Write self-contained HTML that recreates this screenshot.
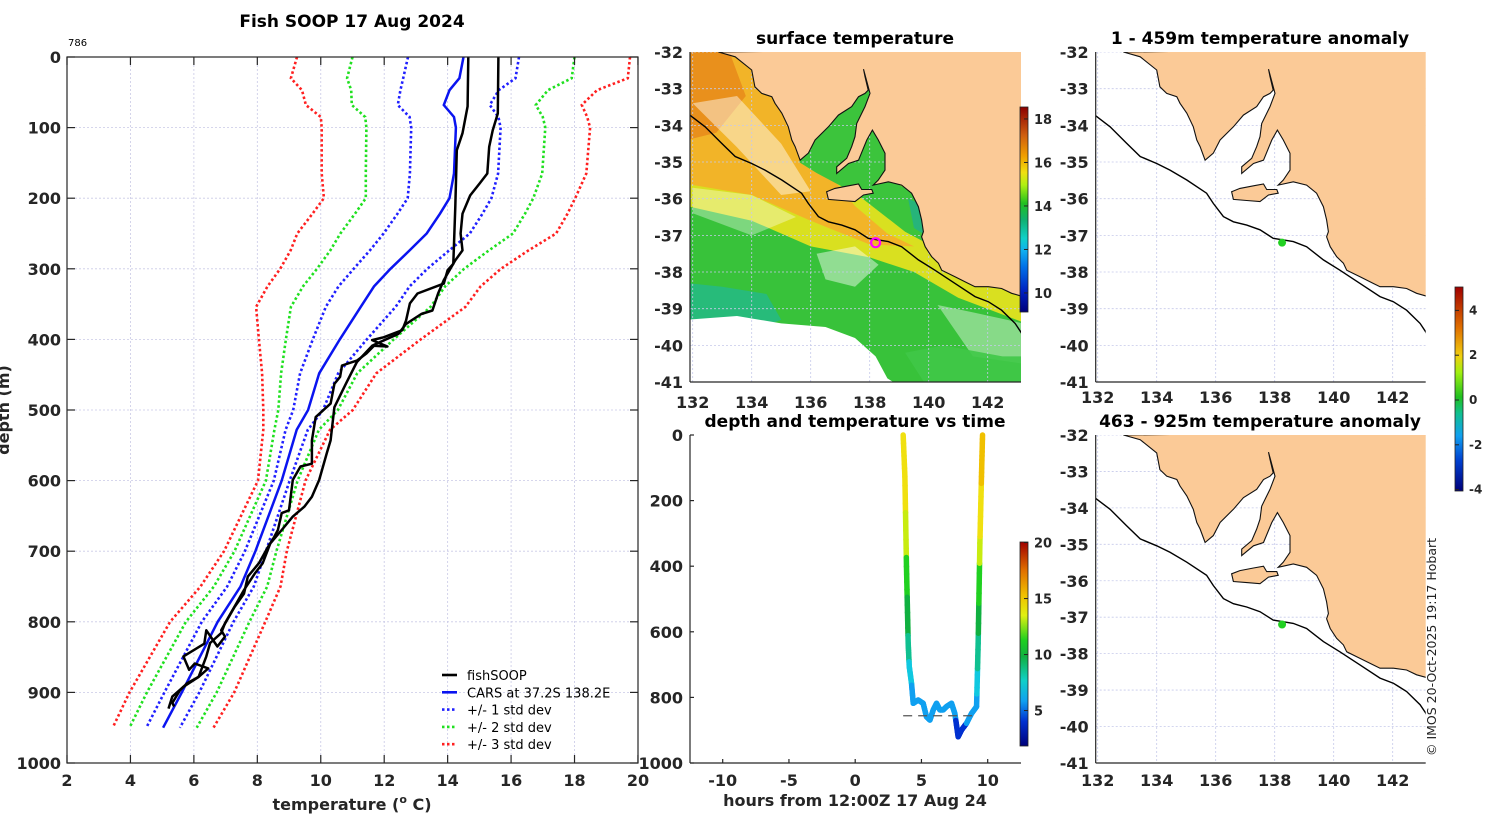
<!DOCTYPE html>
<html><head><meta charset="utf-8">
<style>
html,body{margin:0;padding:0;background:#fff;}
svg{display:block;font-family:"DejaVu Sans","Liberation Sans",sans-serif;}
.tk{font-weight:bold;font-size:16px;fill:#262626;}
.ttl{font-weight:bold;font-size:17px;fill:#000;}
</style></head>
<body>
<svg id="fig" width="1500" height="820" viewBox="0 0 1500 820" xmlns="http://www.w3.org/2000/svg">
<defs>
<linearGradient id="sstcb" x1="0" y1="1" x2="0" y2="0">
<stop offset="0" stop-color="#00007a"/><stop offset="0.1" stop-color="#0020c0"/><stop offset="0.22" stop-color="#0070e8"/>
<stop offset="0.3" stop-color="#10b0f0"/><stop offset="0.36" stop-color="#10d0c8"/><stop offset="0.45" stop-color="#10b070"/>
<stop offset="0.53" stop-color="#20c020"/><stop offset="0.62" stop-color="#b0f010"/><stop offset="0.68" stop-color="#f0e010"/>
<stop offset="0.76" stop-color="#f0a000"/><stop offset="0.86" stop-color="#d06010"/><stop offset="1" stop-color="#8b0000"/>
</linearGradient>
<linearGradient id="tcb" x1="0" y1="1" x2="0" y2="0">
<stop offset="0" stop-color="#00007a"/><stop offset="0.12" stop-color="#0030d0"/><stop offset="0.22" stop-color="#10a0f0"/>
<stop offset="0.32" stop-color="#10d0c8"/><stop offset="0.44" stop-color="#10b040"/><stop offset="0.52" stop-color="#20d020"/>
<stop offset="0.64" stop-color="#e0f010"/><stop offset="0.74" stop-color="#f0c000"/><stop offset="0.86" stop-color="#e07000"/><stop offset="1" stop-color="#a00000"/>
</linearGradient>
<linearGradient id="acb" x1="0" y1="1" x2="0" y2="0">
<stop offset="0" stop-color="#00007a"/><stop offset="0.15" stop-color="#0040d0"/><stop offset="0.27" stop-color="#10a0f0"/>
<stop offset="0.38" stop-color="#10c090"/><stop offset="0.46" stop-color="#20c020"/><stop offset="0.58" stop-color="#a0f010"/>
<stop offset="0.66" stop-color="#f0d010"/><stop offset="0.8" stop-color="#e07000"/><stop offset="1" stop-color="#a00000"/>
</linearGradient>
<clipPath id="clipSst"><rect x="690" y="52" width="331" height="330"/></clipPath>
<clipPath id="clipA1"><rect x="1095.7" y="52" width="330" height="330"/></clipPath>
<clipPath id="clipA2"><rect x="1095.7" y="435" width="330" height="328"/></clipPath>
<clipPath id="clipMain"><rect x="67" y="57" width="571" height="706"/></clipPath>
</defs>
</svg>
<script>
// ---------- main profile chart data ----------
const cDepth = [0,30,47,68,85,100,165,200,222,250,274,300,325,354,400,448,500,528,600,700,750,800,900,950];
const cMean  = [14.5,14.37,14.06,13.88,14.2,14.26,14.2,14.06,13.76,13.34,12.8,12.2,11.68,11.26,10.6,9.95,9.6,9.24,8.77,7.94,7.47,6.75,5.62,5.03];
const cStd   = [1.75,1.77,1.55,1.45,1.4,1.41,1.39,1.32,1.34,1.36,1.25,1.16,1.12,1.1,0.85,0.6,0.47,0.35,0.25,0.33,0.42,0.5,0.55,0.53];
const castADepth = [0,80,104,127,165,179,196,222,250,274,288,302,316,335,359,364,378,392,404,409,432,463,496,543,561,599,623,637,651,670,689,717,731,755,774,802,816,830,849,878,887,897,915,920];
const castATemp  = [15.6,15.58,15.42,15.31,15.25,15.01,14.71,14.47,14.41,14.47,14.24,14.06,13.88,13.7,13.52,13.17,12.69,12.45,11.86,11.62,11.14,10.79,10.43,10.31,10.19,9.95,9.72,9.48,9.12,8.77,8.41,8.17,7.93,7.58,7.34,6.98,6.86,6.51,6.39,6.15,5.79,5.56,5.32,5.38];
const castBDepth = [0,70,108,132,212,293,302,321,335,349,373,387,397,401,410,409,420,430,437,453,463,491,510,543,576,580,599,642,646,670,680,693,717,736,760,779,812,821,835,812,831,849,868,859,866,878,892,906,923];
const castBTemp  = [14.65,14.63,14.47,14.29,14.24,14.18,14.0,13.88,13.05,12.81,12.69,12.57,11.98,11.62,12.1,11.68,11.44,11.14,10.67,10.61,10.43,10.31,9.84,9.72,9.72,9.36,9.12,9.0,8.77,8.65,8.53,8.35,8.05,7.7,7.58,7.28,6.86,6.98,6.74,6.39,6.33,5.67,5.85,6.03,6.45,6.15,5.67,5.32,5.2];
const xTicks = [2,4,6,8,10,12,14,16,18,20];
const yTicks = [0,100,200,300,400,500,600,700,800,900,1000];
const legendLabels = ["fishSOOP","CARS at 37.2S 138.2E","+/- 1 std dev","+/- 2 std dev","+/- 3 std dev"];
// ---------- time chart data ----------
const tHours = [3.62,3.75,3.87,4.0,4.08,4.25,4.38,4.75,5.13,5.38,5.64,5.89,6.14,6.39,6.64,6.89,7.27,7.52,7.77,8.03,8.4,8.78,9.16,9.28,9.41,9.53,9.61];
const tDepths = [0,127,401,635,706,757,818,808,818,859,869,838,818,838,838,828,818,849,920,899,879,849,828,635,330,127,0];
const tTemps = [15.4,15.2,13.3,10.2,8.6,7.6,6.8,6.8,6.7,6.5,6.4,6.6,6.7,6.5,6.6,6.6,6.7,6.3,5.4,5.6,6.0,6.3,6.8,10.2,14.4,15.9,16.4];
const tBottom = 856;
const hourTicks = [-10,-5,0,5,10];
const tDepthTicks = [0,200,400,600,800,1000];
// ---------- maps ----------
const lonTicks = [132,134,136,138,140,142];
const latTicks = [-32,-33,-34,-35,-36,-37,-38,-39,-40,-41];
const landLon = [132.87,133.44,134.0,134.11,134.34,134.68,134.79,135.02,135.24,135.36,135.47,135.64,135.92,136.15,136.6,136.94,137.39,137.62,137.84,137.95,137.84,137.79,138.01,137.84,137.56,137.5,137.39,137.22,136.88,136.88,137.28,137.62,137.9,138.09,138.29,138.52,138.52,138.29,138.12,138.63,139.08,139.42,139.65,139.76,139.82,139.76,139.88,140.1,140.33,140.44,140.89,141.34,141.57,142.02,142.47,142.81,143.12,143.3,143.3];
const landLat = [-32,-32.13,-32.49,-32.95,-33.13,-33.22,-33.4,-33.67,-34.04,-34.4,-34.58,-34.95,-34.76,-34.4,-34.04,-33.72,-33.49,-33.22,-33.13,-33.04,-32.67,-32.47,-33.13,-33.49,-33.95,-34.31,-34.58,-34.9,-35.13,-35.31,-35.04,-34.95,-34.4,-34.13,-34.4,-34.76,-35.22,-35.49,-35.63,-35.54,-35.63,-35.85,-36.22,-36.58,-36.9,-37.04,-37.31,-37.58,-37.76,-37.95,-38.13,-38.31,-38.4,-38.4,-38.45,-38.58,-38.65,-38.65,-31.9];
const kiLon = [136.54,136.82,137.28,137.62,137.73,138.07,138.12,137.79,137.5,137.05,136.6];
const kiLat = [-35.81,-35.72,-35.65,-35.6,-35.75,-35.75,-35.85,-35.9,-36.08,-36.05,-36.02];
const shelfLon = [131.9,132.42,132.98,133.44,134.0,134.45,135.02,135.69,135.92,136.26,136.6,137.05,137.5,137.95,138.63,139.08,139.65,140.21,140.89,141.57,142.02,142.47,142.93,143.12,143.2];
const shelfLat = [-33.72,-34.04,-34.49,-34.85,-35.04,-35.22,-35.49,-35.85,-36.13,-36.49,-36.63,-36.72,-36.85,-37.08,-37.17,-37.31,-37.67,-37.95,-38.31,-38.67,-38.81,-39.04,-39.4,-39.63,-39.75];
const stationLon = 138.2, stationLat = -37.2;
const sstTicks = [18,16,14,12,10];
const tempCbTicks = [20,15,10,5];
const anomTicks = [4,2,0,-2,-4];

const NS = "http://www.w3.org/2000/svg";
const svg = document.getElementById('fig');
function mk(tag, attrs, parent){ const e=document.createElementNS(NS,tag); for(const k in attrs) e.setAttribute(k,attrs[k]); (parent||svg).appendChild(e); return e; }
function txt(x,y,s,cls,anchor,parent){ const e=mk('text',{x:x,y:y,'text-anchor':anchor||'middle'},parent); if(cls) e.setAttribute('class',cls); e.textContent=s; return e; }

// ---- scales ----
const tx = T => 67+(T-2)*31.72;
const dy = d => 57+d*0.706;
const hx = h => 855.2+h*13.25;
const hy = d => 435+d*0.328;
function mapScale(x0,y0,ppy){ return {x: lon=>x0+(lon-132)*29.5, y: lat=>y0+(-32-lat)*ppy}; }
const sstS = mapScale(692.7,52,36.67);
const a1S = mapScale(1097.7,52,36.67);
const a2S = mapScale(1097.7,435,36.44);

// ================= MAIN CHART =================
const main = mk('g',{});


const grid = mk('g',{stroke:'#c9c9e6','stroke-width':0.8,'stroke-dasharray':'2,2'},main);


xTicks.forEach(t=>{ mk('line',{x1:tx(t),x2:tx(t),y1:57,y2:763},grid); });
yTicks.forEach(t=>{ mk('line',{x1:67,x2:638,y1:dy(t),y2:dy(t)},grid); });

const pc = mk('g',{'clip-path':'url(#clipMain)',fill:'none'},main);
function profPath(temps, depths){ return temps.map((t,i)=>(i?'L':'M')+tx(t).toFixed(1)+','+dy(depths[i]).toFixed(1)).join(''); }
const stdCols = ['#2020ff','#20e020','#ff2020'];
[3,2,1].forEach(k=>{
  [-1,1].forEach(sg=>{
    const p = mk('path',{d:profPath(cMean.map((m,i)=>m+sg*k*cStd[i]),cDepth),stroke:stdCols[k-1],'stroke-width':2.6,'stroke-dasharray':'2.5,2.5'},pc);
    
    
  });
});
const meanP = mk('path',{d:profPath(cMean,cDepth),stroke:'#0a14f0','stroke-width':2.5},pc);


const castA = mk('path',{d:profPath(castATemp,castADepth),stroke:'#000','stroke-width':2.5,'stroke-linejoin':'round'},pc);


const castB = mk('path',{d:profPath(castBTemp,castBDepth),stroke:'#000','stroke-width':2.5,'stroke-linejoin':'round'},pc);



const ax = mk('g',{stroke:'#262626','stroke-width':1.2},main);


mk('rect',{x:67,y:57,width:571,height:706,fill:'none'},ax);
xTicks.forEach(t=>{ mk('line',{x1:tx(t),x2:tx(t),y1:57,y2:65},ax); mk('line',{x1:tx(t),x2:tx(t),y1:763,y2:755},ax); });
yTicks.forEach(t=>{ mk('line',{x1:67,x2:75,y1:dy(t),y2:dy(t)},ax); mk('line',{x1:638,x2:630,y1:dy(t),y2:dy(t)},ax); });
xTicks.forEach(t=>{ const e=txt(tx(t),786,String(t),'tk');   });
yTicks.forEach(t=>{ const e=txt(61,dy(t)+6,String(t),'tk','end');   });
const xt = mk('text',{x:352,y:810,'text-anchor':'middle',class:'tk'});
xt.innerHTML='temperature (<tspan dy="-7" font-size="11">o</tspan><tspan dy="7"> C)</tspan>';


const yt = txt(0,0,'depth (m)','tk');
yt.setAttribute('transform','translate(9,410) rotate(-90)');


const mt = txt(352,27,'Fish SOOP 17 Aug 2024','ttl');


const n786 = mk('text',{x:68,y:46,'font-size':'10',fill:'#000'});
n786.textContent='786';



// legend
const lg = mk('g',{},main);


const lgCols = ['#000','#0a14f0','#2020ff','#20e020','#ff2020'];
legendLabels.forEach((s,i)=>{
  const y=675+i*17.3;
  const ln = mk('line',{x1:442,x2:457,y1:y,y2:y,stroke:lgCols[i],'stroke-width':2.6},lg);
  if(i>1) ln.setAttribute('stroke-dasharray','2.5,2.5');
  const t = mk('text',{x:467,y:y+5,'font-size':'13',fill:'#000'},lg);
  t.textContent=s;
  
  
});

// ================= MAPS =================
function polyD(S, lons, lats, close){ return lons.map((l,i)=>(i?'L':'M')+S.x(l).toFixed(1)+','+S.y(lats[i]).toFixed(1)).join('')+(close?'Z':''); }
function mapGrid(S, g, x0, x1, y0, y1){
  const gg = mk('g',{stroke:'#c5c9ea','stroke-width':0.8,'stroke-dasharray':'2,2'},g);
  lonTicks.forEach(l=>mk('line',{x1:S.x(l),x2:S.x(l),y1:y0,y2:y1},gg));
  latTicks.forEach(l=>mk('line',{x1:x0,x2:x1,y1:S.y(l),y2:S.y(l)},gg));
}
function mapAxes(S, g, x0, x1, y0, y1, labY){
  const a = mk('g',{stroke:'#262626','stroke-width':1.2},g);
  mk('line',{x1:x0,x2:x0,y1:y0,y2:y1},a);
  mk('line',{x1:x0,x2:x1,y1:y1,y2:y1},a);
  latTicks.forEach(l=>{ const e=txt(x0-7,S.y(l)+6,String(l),'tk','end',g);   });
  lonTicks.forEach(l=>{ const e=txt(S.x(l),labY,String(l),'tk','middle',g);   });
}
function landAndShelf(S, g){
  const land = mk('path',{d:polyD(S,landLon,landLat,true),fill:'#fbca97',stroke:'#111','stroke-width':1.1},g);
  
  
  const ki = mk('path',{d:polyD(S,kiLon,kiLat,true),fill:'#fbca97',stroke:'#111','stroke-width':1.1},g);
  
  
  const sh = mk('path',{d:polyD(S,shelfLon,shelfLat,false),fill:'none',stroke:'#000','stroke-width':1.4},g);
  
  
}

// --- SST map ---
const sst = mk('g',{});


const sstc = mk('g',{'clip-path':'url(#clipSst)'},sst);
mk('rect',{x:690,y:52,width:331,height:330,fill:'#38c23a'},sstc);
const polyLL = (lons,lats,fill,op)=>mk('path',{d:polyD(sstS,lons,lats,true),fill:fill,'fill-opacity':op||1},sstc);
polyLL([131.8,134,136,138,139.5,141,143.3,143.3,131.8],[-36.2,-36.6,-37.3,-37.6,-38.0,-38.7,-39.4,-31.9,-31.9],'#d9e020');
polyLL([131.8,133.5,135,136.5,137.5,138.6,139.5,138,136,134,131.8],[-31.9,-31.9,-33.5,-35.2,-36.2,-36.95,-37.3,-37.25,-36.6,-35.9,-35.6],'#f2b428');
polyLL([131.8,133.2,133.8,132.8,131.8],[-31.9,-31.9,-33.2,-34.2,-34.4],'#e88a1a',0.85);
polyLL([135.6,137.8,138.6,138.7,139.9,139.9,139.2,137.6,136.2],[-35.0,-32.4,-34.0,-35.5,-36.0,-37.2,-36.9,-35.9,-35.3],'#3cc43c');
polyLL([139.3,139.9,139.9,139.5],[-36.0,-36.2,-37.0,-36.8],'#20b08a',0.8);
polyLL([131.8,133,134.5,135,134,132.5,131.8],[-38.3,-38.4,-38.6,-39.3,-39.6,-39.8,-39.9],'#22b890',0.75);
polyLL([131.8,133.5,135,136.5,137.5,138.2,138.6,139.2,131.8],[-39.3,-39.2,-39.4,-39.5,-39.8,-40.3,-40.9,-41.2,-41.2],'#ffffff');
polyLL([132,133.5,135,136,135,133.5],[-33.4,-33.2,-34.5,-35.8,-35.9,-34.6],'#ffffff',0.45);
polyLL([132,134,135.5,134,132],[-35.7,-35.9,-36.5,-37.0,-36.4],'#ffffff',0.35);
polyLL([136.2,137.5,138.3,137.5,136.5],[-37.5,-37.3,-37.8,-38.4,-38.2],'#ffffff',0.45);
polyLL([140.3,141.5,143.2,143.2,141.5],[-38.9,-39.1,-39.4,-40.5,-40.3],'#ffffff',0.4);
polyLL([139.2,140.5,142.5,143.3,143.3,140],[-40.2,-40.0,-40.3,-40.3,-41.2,-41.2],'#40c848',0.9);
mapGrid(sstS,sstc,690,1021,52,382);
landAndShelf(sstS,sstc);
const stn = mk('circle',{cx:sstS.x(stationLon),cy:sstS.y(stationLat),r:4.5,fill:'none',stroke:'#ff00ff','stroke-width':2.2},sst);


mapAxes(sstS,sst,690,1021,52,382,408);
const st1 = txt(855,44,'surface temperature','ttl','middle',sst);


// sst colorbar
const cb1 = mk('g',{},sst);


const cbS1 = v=>107+(18.55-v)*21.75;
mk('rect',{x:1020,y:107,width:8,height:205,fill:'url(#sstcb)',stroke:'#222','stroke-width':0.8},cb1);
sstTicks.forEach(v=>{ mk('line',{x1:1024,x2:1028,y1:cbS1(v),y2:cbS1(v),stroke:'#222'},cb1); const e=txt(1034,cbS1(v)+5,String(v),'','start',cb1); e.setAttribute('font-size','13'); e.setAttribute('font-weight','bold'); e.setAttribute('fill','#262626'); });

// --- Time chart ---
const tc = mk('g',{});


const tcol = T=>{ const stops=[[2,'#00007a'],[4,'#0030d0'],[6,'#10a0f0'],[7.5,'#10c8e0'],[9,'#10c090'],[10.5,'#10b040'],[12,'#20d020'],[13.5,'#c8ec10'],[14.5,'#f0e010'],[15.8,'#f0c000'],[17.5,'#e07000'],[20,'#a00000']];
  for(let i=stops.length-1;i>=0;i--) if(T>=stops[i][0]) return stops[i][1]; return stops[0][1]; };
const segG = mk('g',{'stroke-linecap':'round','stroke-width':5.5},tc);


for(let i=0;i<tHours.length-1;i++){
  const n=10;
  for(let j=0;j<n;j++){
    const f0=j/n,f1=(j+1)/n;
    const h0=tHours[i]+(tHours[i+1]-tHours[i])*f0, h1=tHours[i]+(tHours[i+1]-tHours[i])*f1;
    const d0=tDepths[i]+(tDepths[i+1]-tDepths[i])*f0, d1=tDepths[i]+(tDepths[i+1]-tDepths[i])*f1;
    const T=tTemps[i]+(tTemps[i+1]-tTemps[i])*(f0+f1)/2;
    const s = mk('line',{x1:hx(h0),y1:hy(d0),x2:hx(h1),y2:hy(d1),stroke:tcol(T)},segG);
    
    
  }
}
const bot = mk('line',{x1:hx(tHours[0]),x2:hx(tHours[tHours.length-5]),y1:hy(tBottom),y2:hy(tBottom),stroke:'#555','stroke-width':1.3,'stroke-dasharray':'9,6'},tc);


const ta = mk('g',{stroke:'#262626','stroke-width':1.2},tc);
mk('line',{x1:690,x2:690,y1:435,y2:763},ta);
mk('line',{x1:690,x2:1021,y1:763,y2:763},ta);
hourTicks.forEach(h=>{ mk('line',{x1:hx(h),x2:hx(h),y1:763,y2:759},ta); const e=txt(hx(h),786,String(h),'tk','middle',tc);   });
tDepthTicks.forEach(d=>{ mk('line',{x1:690,x2:694,y1:hy(d),y2:hy(d)},ta); const e=txt(683,hy(d)+6,String(d),'tk','end',tc);   });
const tt = txt(855,427,'depth and temperature vs time','ttl','middle',tc);


const tx2 = txt(855,806,'hours from 12:00Z 17 Aug 24','tk','middle',tc);


const cb2 = mk('g',{},tc);


const cbS2 = v=>542+(20.05-v)*11.2;
mk('rect',{x:1020,y:542,width:8,height:204,fill:'url(#tcb)',stroke:'#222','stroke-width':0.8},cb2);
tempCbTicks.forEach(v=>{ mk('line',{x1:1024,x2:1028,y1:cbS2(v),y2:cbS2(v),stroke:'#222'},cb2); const e=txt(1034,cbS2(v)+5,String(v),'','start',cb2); e.setAttribute('font-size','13'); e.setAttribute('font-weight','bold'); e.setAttribute('fill','#262626'); });

// --- Anomaly maps ---
function anomMap(S, clip, y0, y1, labY, title, titleY, name){
  const g = mk('g',{});
  
  
  const c = mk('g',{'clip-path':clip},g);
  mk('rect',{x:1095.7,y:y0,width:330,height:y1-y0,fill:'#fff'},c);
  mapGrid(S,c,1095.7,1425.7,y0,y1);
  landAndShelf(S,c);
  const dot = mk('circle',{cx:S.x(stationLon+0.05),cy:S.y(stationLat),r:4,fill:'#22d022'},g);
  
  
  mapAxes(S,g,1095.7,1425.7,y0,y1,labY);
  const t = txt(1260,titleY,title,'ttl','middle',g);
  
  
}
anomMap(a1S,'url(#clipA1)',52,382,403,'1 - 459m temperature anomaly',44,'anomaly-map-shallow');
anomMap(a2S,'url(#clipA2)',435,763,786,'463 - 925m temperature anomaly',427,'anomaly-map-deep');
const cb3 = mk('g',{});


const cbS3 = v=>400-v*22.4;
mk('rect',{x:1455,y:287,width:8,height:204,fill:'url(#acb)',stroke:'#222','stroke-width':0.8},cb3);
anomTicks.forEach(v=>{ mk('line',{x1:1455,x2:1459,y1:cbS3(v),y2:cbS3(v),stroke:'#222'},cb3); const e=txt(1469,cbS3(v)+4,String(v),'','start',cb3); e.setAttribute('font-size','12'); e.setAttribute('font-weight','bold'); e.setAttribute('fill','#262626'); });

const cr = txt(0,0,'\u00a9 IMOS 20-Oct-2025 19:17 Hobart','','middle');
cr.setAttribute('transform','translate(1436,647) rotate(-90)');
cr.setAttribute('font-size','12.5');
cr.setAttribute('fill','#222');


</script>
</body></html>
